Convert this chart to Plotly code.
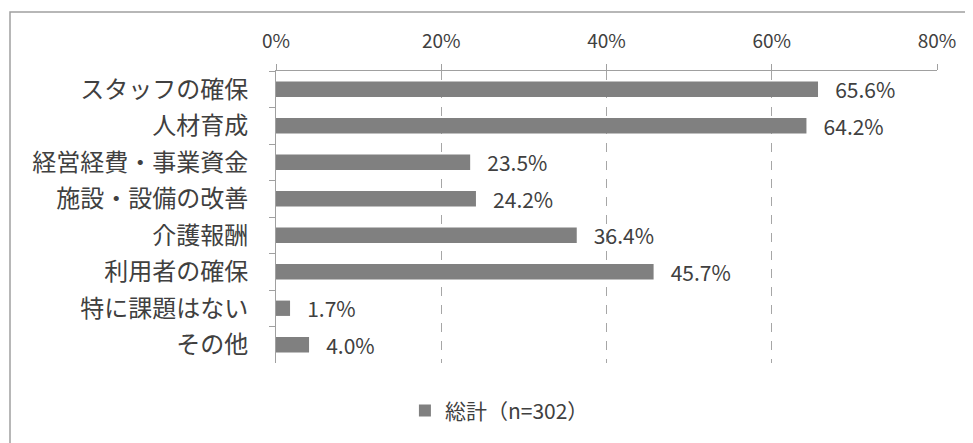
import plotly.graph_objects as go

categories = ["スタッフの確保", "人材育成", "経営経費・事業資金", "施設・設備の改善",
              "介護報酬", "利用者の確保", "特に課題はない", "その他"]
values = [65.6, 64.2, 23.5, 24.2, 36.4, 45.7, 1.7, 4.0]
series_name = "総計（n=302）"
tick_vals = [0, 20, 40, 60, 80]
tick_text = ["0%", "20%", "40%", "60%", "80%"]

FONT = "Noto Sans CJK JP"
TXT = "#404040"

# page has an 8px body margin, so the figure is sized to the visible area
W, H = 965, 435
L, R, T, B = 268, 36, 63, 80
PW, PH = W - L - R, H - T - B

fig = go.Figure()
fig.add_trace(go.Bar(
    y=categories, x=values, orientation="h", name=series_name,
    marker=dict(color="#808080", line=dict(width=0)),
    width=0.42,
    text=["   " + f"{v:.1f}%" for v in values],
    textposition="outside", cliponaxis=False, constraintext="none",
    textfont=dict(family=FONT, size=21, color=TXT),
    showlegend=True,
))

fig.update_layout(
    width=W, height=H,
    margin=dict(l=L, r=R, t=T, b=B, autoexpand=False),
    paper_bgcolor="white", plot_bgcolor="white",
    font=dict(family=FONT, color=TXT),
    showlegend=True,
    legend=dict(orientation="h", x=0.338, xanchor="center", y=-0.164, yanchor="middle",
                font=dict(family=FONT, size=21, color=TXT), itemwidth=30),
    xaxis=dict(
        side="top", range=[0, 80], tickvals=tick_vals, ticktext=tick_text,
        showgrid=True, gridcolor="#a6a6a6", griddash="dash", gridwidth=1,
        showline=True, linecolor="#a0a0a0", linewidth=1,
        ticks="outside", ticklen=6, tickcolor="#a0a0a0",
        tickfont=dict(family=FONT, size=19, color=TXT),
        ticklabelstandoff=8, zeroline=False, automargin=False,
    ),
    yaxis=dict(
        autorange="reversed", showline=True, linecolor="#a0a0a0", linewidth=1,
        ticks="outside", ticklen=6, tickcolor="#a0a0a0", tickson="boundaries",
        tickfont=dict(family=FONT, size=24, color=TXT),
        ticklabelstandoff=22, showgrid=False, automargin=False,
    ),
    shapes=[dict(type="rect", xref="paper", yref="paper",
                 x0=(2 - L) / PW, x1=(990 - L) / PW,
                 y0=(H - B - 460) / PH, y1=(H - B - 4) / PH,
                 line=dict(color="#a0a0a0", width=1.5), layer="below")],
)

fig.write_html("out.html")
